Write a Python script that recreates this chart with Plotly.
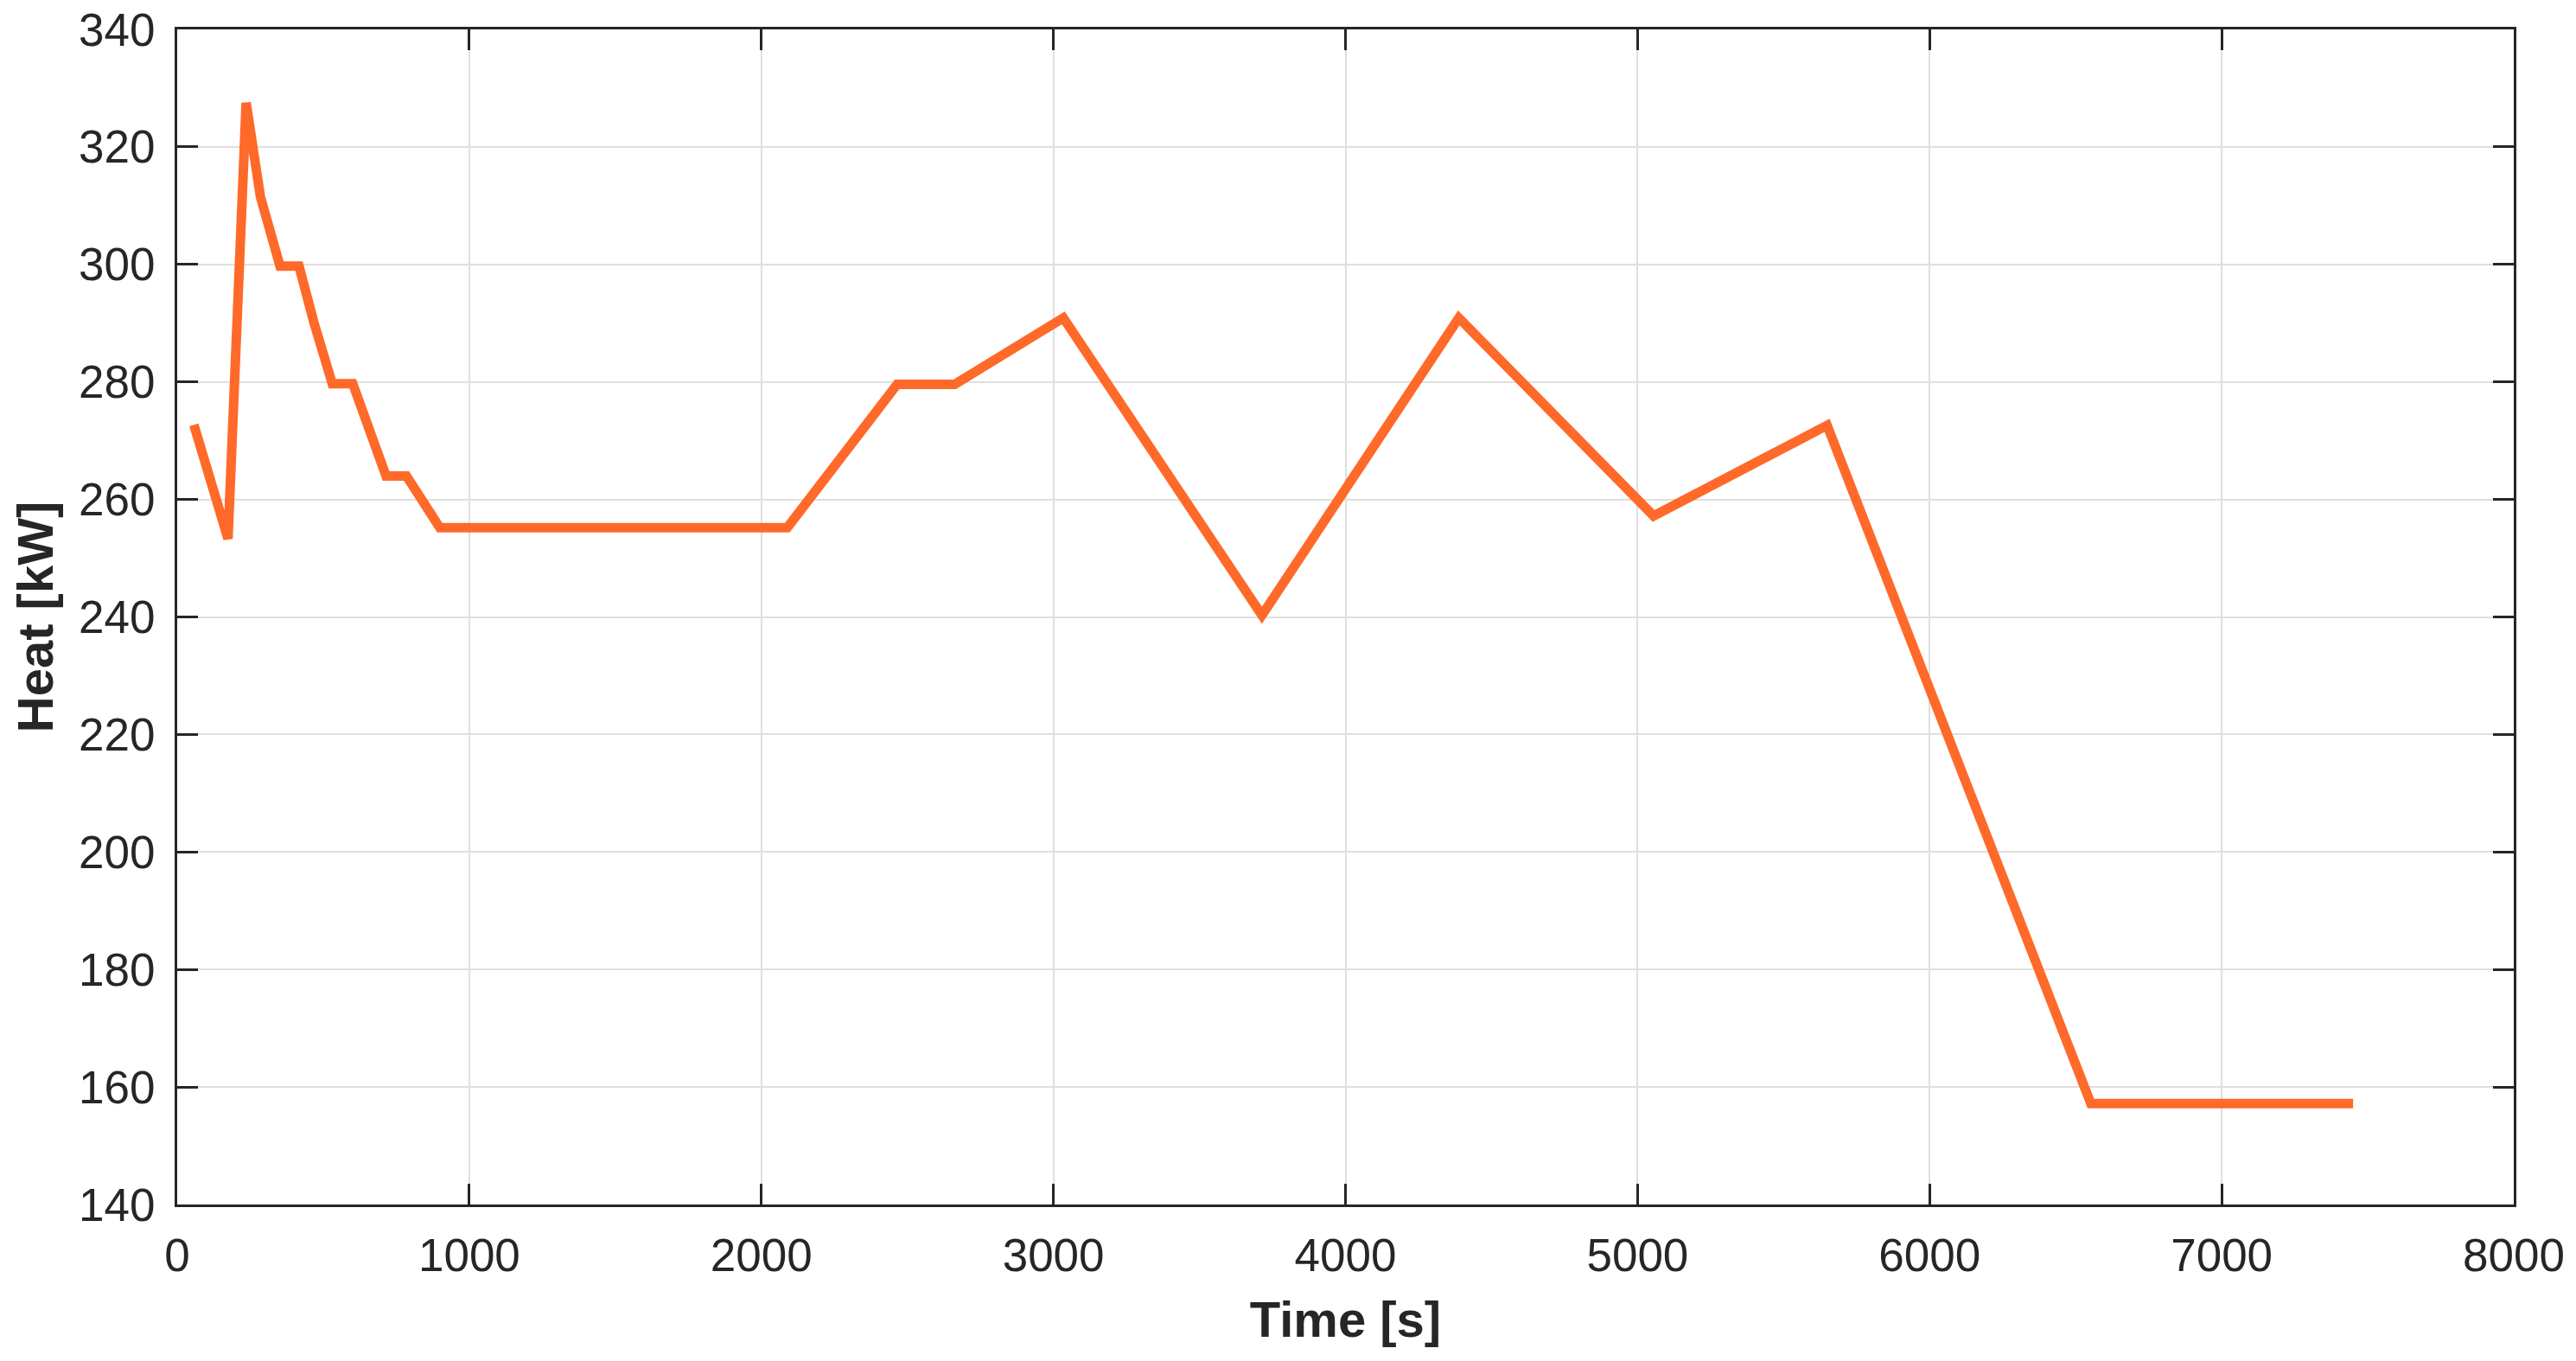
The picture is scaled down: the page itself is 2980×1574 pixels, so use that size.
import plotly.graph_objects as go

time_s = [57, 174, 236, 285, 352, 417, 467, 531, 601, 665, 715, 785, 899,
          2089, 2465, 2662, 3034, 3714, 4388, 5055, 5649, 6552, 7450]
heat_kw = [272.7, 253.3, 327.5, 311.5, 299.7, 299.7, 290.3, 279.7, 279.7, 271.0, 264.0, 264.0, 255.2,
           255.2, 279.6, 279.6, 290.9, 240.3, 290.9, 257.2, 272.6, 157.2, 157.2]

x_ticks = [0, 1000, 2000, 3000, 4000, 5000, 6000, 7000, 8000]
y_ticks = [140, 160, 180, 200, 220, 240, 260, 280, 300, 320, 340]

fig = go.Figure()
fig.add_trace(go.Scatter(x=time_s, y=heat_kw, mode="lines",
                         line=dict(color="#FF6929", width=11),
                         showlegend=False))

axis_common = dict(
    showline=True, linecolor="#262626", linewidth=3, mirror="ticks",
    ticks="inside", ticklen=24, tickwidth=3, tickcolor="#262626",
    showgrid=True, gridcolor="#DFDFDF", gridwidth=2,
    zeroline=False, ticklabeloverflow="allow",
    tickfont=dict(family="Liberation Sans, Arial", size=53, color="#262626"),
)

fig.update_layout(
    width=2980, height=1574,
    paper_bgcolor="white", plot_bgcolor="white",
    margin=dict(l=197, r=80, t=26, b=189, autoexpand=False),
    xaxis=dict(range=[0, 8000], tickvals=x_ticks, ticklabelstandoff=10,
               title=dict(text="<b>Time [s]</b>", standoff=26,
                          font=dict(family="Liberation Sans, Arial", size=58, color="#262626")),
               **axis_common),
    yaxis=dict(range=[140, 340], tickvals=y_ticks, ticklabelstandoff=12,
               title=dict(text="<b>Heat [kW]</b>", standoff=12,
                          font=dict(family="Liberation Sans, Arial", size=58, color="#262626")),
               **axis_common),
)

fig.write_html("out.html")
